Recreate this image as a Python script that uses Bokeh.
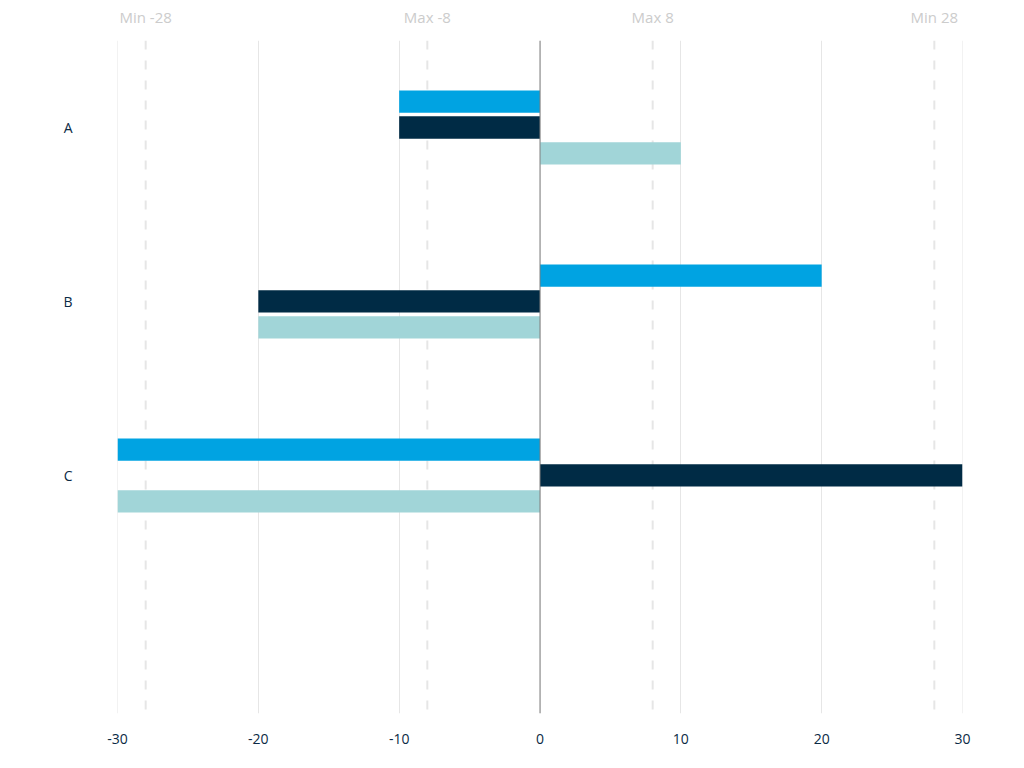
from bokeh.plotting import figure
from bokeh.models import ColumnDataSource, Range1d, FixedTicker, LinearAxis, Span
from bokeh.embed import file_html
from bokeh.resources import INLINE

categories = ["A", "B", "C"]
series1 = [-10, 20, -30]
series2 = [-10, -20, 30]
series3 = [10, -20, -30]
plot_line_values = [-28, -8, 8, 28]
plot_line_labels = ["Min -28", "Max -8", "Max 8", "Min 28"]
x_ticks = [-30, -20, -10, 0, 10, 20, 30]
x_tick_labels = ["-30", "-20", "-10", "0", "10", "20", "30"]

colors = ["#00a3e2", "#002b45", "#a1d5d8"]
offsets = [-0.149, 0.0, 0.149]
bar_h = 0.128
FONT = "Open Sans"

p = figure(width=1008, height=752, output_backend="svg", toolbar_location=None,
           x_range=Range1d(-30, 30), y_range=Range1d(3.368, -0.5),
           min_border_left=117, min_border_right=46, min_border_top=40, min_border_bottom=39)
p.outline_line_color = None
p.background_fill_color = "white"
p.border_fill_color = "white"

# grid
p.xgrid.ticker = FixedTicker(ticks=x_ticks)
p.xgrid.grid_line_color = "#e6e6e6"
p.xgrid.grid_line_width = 1
p.ygrid.grid_line_color = None
for v in (x_ticks[0], x_ticks[-1]):
    p.add_layout(Span(location=v, dimension="height", line_color="#e6e6e6",
                      line_width=1, level="underlay"))

# plot lines (dashed)
for v in plot_line_values:
    p.add_layout(Span(location=v, dimension="height", line_color="#e6e6e6",
                      line_width=2, line_dash="9 11", level="underlay"))

# bars
idx = list(range(len(categories)))
for s, c, off in zip([series1, series2, series3], colors, offsets):
    src = ColumnDataSource(dict(y=[i + off for i in idx], right=s, left=[0] * len(s)))
    p.hbar(y="y", left="left", right="right", height=bar_h, source=src,
           fill_color=c, line_color=None)

# zero line
p.add_layout(Span(location=0, dimension="height", line_color="#7f7f7f", line_width=1))

# bottom x axis
xa = p.xaxis[0]
xa.ticker = FixedTicker(ticks=x_ticks)
xa.major_label_overrides = {t: l for t, l in zip(x_ticks, x_tick_labels)}
xa.axis_line_color = None
xa.major_tick_line_color = None
xa.minor_tick_line_color = None
xa.major_label_text_color = "#0b2a45"
xa.major_label_text_font = FONT
xa.major_label_text_font_size = "14px"
xa.major_label_standoff = 14

# top axis with plot line labels
ta = LinearAxis(ticker=FixedTicker(ticks=plot_line_values),
                major_label_overrides={v: l for v, l in zip(plot_line_values, plot_line_labels)})
ta.axis_line_color = None
ta.major_tick_line_color = None
ta.minor_tick_line_color = None
ta.major_label_text_color = "#cccccc"
ta.major_label_text_font = FONT
ta.major_label_text_font_size = "15px"
ta.major_label_standoff = 8
p.add_layout(ta, "above")

# y axis
ya = p.yaxis[0]
ya.ticker = FixedTicker(ticks=idx)
ya.major_label_overrides = {i: c for i, c in zip(idx, categories)}
ya.axis_line_color = None
ya.major_tick_line_color = None
ya.minor_tick_line_color = None
ya.major_label_text_color = "#0b2a45"
ya.major_label_text_font = FONT
ya.major_label_text_font_size = "14px"
ya.major_label_standoff = 39

open("out.html", "w").write(file_html(p, INLINE))
